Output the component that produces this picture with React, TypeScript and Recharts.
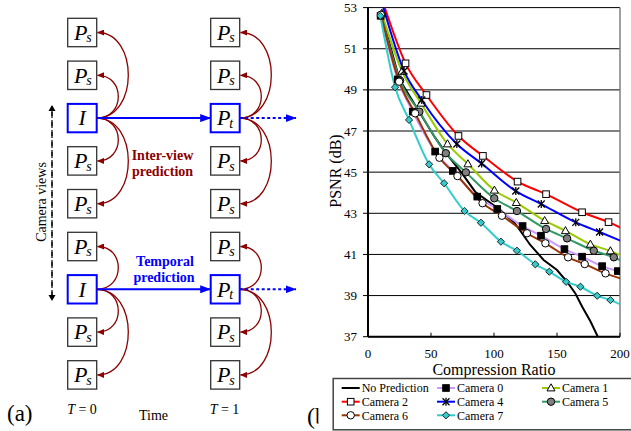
import React from 'react';
import {
  LineChart,
  Line,
  XAxis,
  YAxis,
  CartesianGrid,
  ReferenceLine,
  Label,
} from 'recharts';

// -----------------------------------------------------------------------------
// Data — [compression ratio, PSNR dB]
// -----------------------------------------------------------------------------
type Pt = [number, number];

const X_TICKS = [0, 50, 100, 150, 200];
const Y_TICKS = [37, 39, 41, 43, 45, 47, 49, 51, 53];

const noPrediction: Pt[] = [
  [10.5, 52.7], [25, 49.5], [40, 48.0], [53, 46.7], [61, 46.0], [74.5, 44.95],
  [85, 44.05], [105, 43.16], [116, 42.55], [120.3, 42.2], [128.8, 41.46],
  [139.4, 40.73], [150, 40.24], [158, 39.67], [164.6, 39.1], [170, 38.46],
  [176.5, 37.75], [183.2, 36.9],
];
const camera0: Pt[] = [
  [10, 52.6], [23.6, 49.51], [35.5, 47.94], [53.3, 46.0], [67.3, 45.06],
  [86.7, 43.81], [102.6, 43.21], [122.7, 42.38], [137.3, 41.91], [155.9, 41.26],
  [169.9, 40.89], [185.8, 40.43], [198.3, 40.19],
];
const camera1: Pt[] = [
  [11, 52.72], [27, 49.9], [42.1, 48.35], [63.1, 46.37], [79.3, 45.4],
  [100.3, 44.12], [117.7, 43.52], [140.2, 42.64], [156.7, 42.15], [176.5, 41.49],
  [192.4, 41.17],
];
const camera2: Pt[] = [
  [29.8, 50.29], [46.4, 48.75], [71.8, 46.76], [91.2, 45.79], [118.7, 44.54],
  [141.3, 43.93], [169.9, 43.05], [190.9, 42.57],
];
const camera4: Pt[] = [
  [28.6, 49.92], [42.7, 48.51], [70.5, 46.37], [90.2, 45.42], [117.3, 44.08],
  [137.5, 43.45], [164.9, 42.56], [183.8, 42.09],
];
const camera5: Pt[] = [
  [10.5, 52.65], [25.5, 49.45], [40.8, 47.94], [61.8, 45.92], [77.7, 44.99],
  [100.2, 43.73], [118.2, 43.11], [141.3, 42.24], [158, 41.78], [179.2, 41.18],
  [195.1, 40.86],
];
const camera6: Pt[] = [
  [10.3, 52.65], [24.7, 49.4], [37.4, 47.86], [56.7, 45.7], [71, 44.81],
  [90.9, 43.49], [106.3, 42.88], [126.2, 42.03], [140.8, 41.54], [158.8, 40.86],
  [172, 40.53], [188.5, 40.08],
];
const camera7: Pt[] = [
  [9.8, 52.6], [21.5, 49.13], [32.6, 47.54], [48.5, 45.38], [60.4, 44.46],
  [76.6, 43.11], [89.6, 42.54], [105.5, 41.62], [118.2, 41.18], [132.8, 40.52],
  [143.9, 40.16], [157.2, 39.67], [168.6, 39.43], [181.9, 38.99], [192.4, 38.78],
];

// where the fitted curves leave the plot frame (no marker there)
const camera0Ends: Pt[] = [[203, 40.12]];
const camera1Ends: Pt[] = [[203, 40.88]];
const camera2Ends: Pt[] = [[12.5, 53.15], [203, 42.23]];
const camera4Ends: Pt[] = [[12, 53.05], [203, 41.6]];
const camera5Ends: Pt[] = [[203, 40.64]];
const camera6Ends: Pt[] = [[203, 39.78]];
const camera7Ends: Pt[] = [[203, 38.49]];

// -----------------------------------------------------------------------------
const SERIF = '"Liberation Serif", "Times New Roman", serif';

type MarkerKind =
  | 'none'
  | 'squareFilled'
  | 'triangle'
  | 'squareOpen'
  | 'star'
  | 'circleGray'
  | 'circleOpen'
  | 'diamond';

interface SeriesDef {
  name: string;
  color: string;
  marker: MarkerKind;
  marks: Pt[];
  ends: Pt[];
  curve: 'linear' | 'monotone';
}

const SERIES: SeriesDef[] = [
  { name: 'No Prediction', color: '#000000', marker: 'none', marks: noPrediction, ends: [], curve: 'linear' },
  { name: 'Camera 0', color: '#cc99ff', marker: 'squareFilled', marks: camera0, ends: camera0Ends, curve: 'monotone' },
  { name: 'Camera 1', color: '#99cc00', marker: 'triangle', marks: camera1, ends: camera1Ends, curve: 'monotone' },
  { name: 'Camera 2', color: '#ff0000', marker: 'squareOpen', marks: camera2, ends: camera2Ends, curve: 'monotone' },
  { name: 'Camera 4', color: '#0000ff', marker: 'star', marks: camera4, ends: camera4Ends, curve: 'monotone' },
  { name: 'Camera 5', color: '#339966', marker: 'circleGray', marks: camera5, ends: camera5Ends, curve: 'monotone' },
  { name: 'Camera 6', color: '#993300', marker: 'circleOpen', marks: camera6, ends: camera6Ends, curve: 'monotone' },
  { name: 'Camera 7', color: '#33cccc', marker: 'diamond', marks: camera7, ends: camera7Ends, curve: 'monotone' },
];

const toRows = (marks: Pt[], ends: Pt[]) =>
  [
    ...marks.map(([x, y]) => ({ x, y, m: true })),
    ...ends.map(([x, y]) => ({ x, y, m: false })),
  ].sort((a, b) => a.x - b.x);

const Marker: React.FC<{ kind: MarkerKind; cx: number; cy: number }> = ({ kind, cx, cy }) => {
  switch (kind) {
    case 'squareFilled':
      return <rect x={cx - 3.3} y={cy - 3.3} width={6.6} height={6.6} fill="#000" stroke="#000" strokeWidth={1} />;
    case 'squareOpen':
      return <rect x={cx - 3.3} y={cy - 3.3} width={6.6} height={6.6} fill="#fff" stroke="#000" strokeWidth={1} />;
    case 'triangle':
      return (
        <polygon
          points={`${cx},${cy - 4.2} ${cx + 4},${cy + 2.9} ${cx - 4},${cy + 2.9}`}
          fill="#fff"
          stroke="#000"
          strokeWidth={1}
        />
      );
    case 'star':
      return (
        <g stroke="#000" strokeWidth={1.3}>
          <line x1={cx - 3.5} y1={cy - 3.5} x2={cx + 3.5} y2={cy + 3.5} />
          <line x1={cx - 3.5} y1={cy + 3.5} x2={cx + 3.5} y2={cy - 3.5} />
          <line x1={cx} y1={cy - 4} x2={cx} y2={cy + 4} />
        </g>
      );
    case 'circleGray':
      return <circle cx={cx} cy={cy} r={3.7} fill="#808080" stroke="#000" strokeWidth={1} />;
    case 'circleOpen':
      return <circle cx={cx} cy={cy} r={3.7} fill="#fff" stroke="#000" strokeWidth={1} />;
    case 'diamond':
      return (
        <polygon
          points={`${cx},${cy - 3.6} ${cx + 3.6},${cy} ${cx},${cy + 3.6} ${cx - 3.6},${cy}`}
          fill="#33cccc"
          stroke="#222"
          strokeWidth={1}
        />
      );
    default:
      return null;
  }
};

const makeDot = (kind: MarkerKind, key: string) => (props: any) => {
  const { cx, cy, payload, index } = props;
  if (kind === 'none' || !payload?.m || cx == null || cy == null) return <g key={`${key}-${index}`} />;
  return (
    <g key={`${key}-${index}`}>
      <Marker kind={kind} cx={cx} cy={cy} />
    </g>
  );
};

// -----------------------------------------------------------------------------
// (a) prediction structure diagram
// -----------------------------------------------------------------------------
const BOX_W = 29;
const BOX_H = 28.4;
const boxTops = [18.3, 61.1, 103.9, 146.7, 189.5, 232.3, 275.1, 317.9, 360.7];
const columnLefts = [67.7, 210.7];
const keyRows = [2, 6];
// [from row, to row, bulge]
const arcLinks: [number, number, number][] = [
  [2, 0, 31.5], [2, 1, 21.5], [2, 3, 21.5], [2, 4, 31.5],
  [6, 5, 21.5], [6, 7, 21.5], [6, 8, 31.5],
];
const RED = '#8b0000';
const BLUE = '#0000ff';

const Diagram: React.FC = () => {
  const mid = (r: number) => boxTops[r] + BOX_H / 2;
  return (
    <svg width={631} height={431} style={{ position: 'absolute', left: 0, top: 0 }}>
      <defs>
        <marker id="redHead" markerUnits="userSpaceOnUse" markerWidth={7} markerHeight={6} refX={6.5} refY={3} orient="auto">
          <path d="M0,0 L7,3 L0,6 z" fill={RED} />
        </marker>
        <marker id="blueHead" markerUnits="userSpaceOnUse" markerWidth={11} markerHeight={8} refX={10.5} refY={4} orient="auto">
          <path d="M0,0 L11,4 L0,8 z" fill={BLUE} />
        </marker>
        <marker id="blackHead" markerUnits="userSpaceOnUse" markerWidth={6} markerHeight={9} refX={5} refY={4.5} orient="auto">
          <path d="M0,1 L6,4.5 L0,8 z" fill="#000" />
        </marker>
      </defs>

      {/* boxes */}
      {columnLefts.map((left, c) =>
        boxTops.map((top, r) => {
          const isKey = keyRows.includes(r);
          return (
            <g key={`b${c}-${r}`}>
              <rect
                x={left}
                y={top}
                width={BOX_W}
                height={BOX_H}
                fill="#fff"
                stroke={isKey ? BLUE : '#333'}
                strokeWidth={isKey ? 2 : 1.3}
              />
              {isKey && c === 0 ? (
                <text x={left + BOX_W / 2} y={top + 21.5} textAnchor="middle" fontFamily={SERIF} fontStyle="italic" fontSize={22}>
                  I
                </text>
              ) : (
                <>
                  <text x={left + 6.3} y={top + 21.5} fontFamily={SERIF} fontStyle="italic" fontSize={22}>
                    P
                  </text>
                  <text x={left + 18.5} y={top + 24} fontFamily={SERIF} fontStyle="italic" fontSize={14}>
                    {isKey ? 't' : 's'}
                  </text>
                </>
              )}
            </g>
          );
        }),
      )}

      {/* inter-view arcs */}
      {columnLefts.map((left, c) =>
        arcLinks.map(([from, to, bulge]) => {
          const sx = left + BOX_W;
          const sy = mid(from);
          const ty = mid(to);
          const k = bulge / 0.75;
          return (
            <path
              key={`a${c}-${from}-${to}`}
              d={`M${sx},${sy} C${sx + k},${sy} ${sx + k},${ty} ${sx + 0.8},${ty}`}
              fill="none"
              stroke={RED}
              strokeWidth={1.3}
              markerEnd="url(#redHead)"
            />
          );
        }),
      )}

      {/* temporal arrows */}
      {keyRows.map((r) => (
        <g key={`t${r}`}>
          <line
            x1={columnLefts[0] + BOX_W}
            y1={mid(r)}
            x2={columnLefts[1]}
            y2={mid(r)}
            stroke={BLUE}
            strokeWidth={2}
            markerEnd="url(#blueHead)"
          />
          <line
            x1={columnLefts[1] + BOX_W}
            y1={mid(r)}
            x2={296}
            y2={mid(r)}
            stroke={BLUE}
            strokeWidth={2}
            strokeDasharray="3 2.5"
            markerEnd="url(#blueHead)"
          />
        </g>
      ))}

      {/* camera views axis */}
      <line x1={52} y1={298} x2={52} y2={106} stroke="#000" strokeWidth={1.2} strokeDasharray="6 4" markerEnd="url(#blackHead)" />
      <line x1={52} y1={110} x2={52} y2={300} stroke="#000" strokeWidth={1.2} strokeDasharray="6 4" markerEnd="url(#blackHead)" />
      <text
        x={41}
        y={202}
        transform="rotate(-90 41 202)"
        textAnchor="middle"
        dominantBaseline="central"
        fontFamily={SERIF}
        fontSize={14}
      >
        Camera views
      </text>

      <text x={162.5} y={160} textAnchor="middle" fontFamily={SERIF} fontSize={14} fontWeight="bold" fill={RED}>
        Inter-view
      </text>
      <text x={162.5} y={175.5} textAnchor="middle" fontFamily={SERIF} fontSize={14} fontWeight="bold" fill={RED}>
        prediction
      </text>
      <text x={165} y={266} textAnchor="middle" fontFamily={SERIF} fontSize={14} fontWeight="bold" fill={BLUE}>
        Temporal
      </text>
      <text x={164} y={281.5} textAnchor="middle" fontFamily={SERIF} fontSize={14} fontWeight="bold" fill={BLUE}>
        prediction
      </text>

      <text x={7} y={421} fontFamily={SERIF} fontSize={23}>
        (a)
      </text>
      <text x={82} y={414} textAnchor="middle" fontFamily={SERIF} fontSize={14}>
        <tspan fontStyle="italic">T</tspan> = 0
      </text>
      <text x={153.5} y={420} textAnchor="middle" fontFamily={SERIF} fontSize={14}>
        Time
      </text>
      <text x={224.5} y={414} textAnchor="middle" fontFamily={SERIF} fontSize={14}>
        <tspan fontStyle="italic">T</tspan> = 1
      </text>

      {/* panel label, its bowl hidden behind the legend's white margin */}
      <text x={307} y={424} fontFamily={SERIF} fontSize={24}>
        (b)
      </text>
      <rect x={318.5} y={398} width={20} height={33} fill="#fff" />
    </svg>
  );
};

// -----------------------------------------------------------------------------
// legend box under the chart
// -----------------------------------------------------------------------------
const LEGEND_COLS = [341.7, 437, 542];
const LEGEND_ROWS = [388, 401.7, 415.3];

const LegendBox: React.FC = () => (
  <svg width={631} height={431} style={{ position: 'absolute', left: 0, top: 0 }}>
    <rect x={333.2} y={378.5} width={330} height={51.3} fill="#fff" stroke="#444" strokeWidth={1.5} />
    {SERIES.map((s, i) => {
      const x = LEGEND_COLS[i % 3];
      const y = LEGEND_ROWS[Math.floor(i / 3)];
      return (
        <g key={s.name}>
          <line x1={x} y1={y} x2={x + 18} y2={y} stroke={s.color} strokeWidth={2} />
          <Marker kind={s.marker} cx={x + 9} cy={y} />
          <text x={x + 20} y={y + 4.2} fontFamily={SERIF} fontSize={12} fill="#000">
            {s.name}
          </text>
        </g>
      );
    })}
  </svg>
);

// -----------------------------------------------------------------------------
export default function App() {
  const axisText = { fontSize: 13, fill: '#000', fontFamily: SERIF };
  return (
    <div
      style={{
        position: 'absolute',
        left: 0,
        top: 0,
        width: 631,
        height: 431,
        overflow: 'hidden',
        background: '#fff',
        fontFamily: SERIF,
      }}
    >
      <Diagram />

      <div style={{ position: 'absolute', left: 300, top: 0 }}>
        <LineChart width={331} height={390} margin={{ top: 7.6, right: 11, bottom: 8.3, left: 8 }}>
          <CartesianGrid vertical={false} stroke="#000" strokeWidth={1} />
          <XAxis
            type="number"
            dataKey="x"
            domain={[0, 200]}
            ticks={X_TICKS}
            interval={0}
            allowDataOverflow
            height={45}
            tickSize={-4}
            tickMargin={16.5}
            axisLine={{ stroke: '#000', strokeWidth: 2 }}
            tickLine={{ stroke: '#000' }}
            tick={axisText}
          >
            <Label
              content={() => (
                <text x={194} y={375} textAnchor="middle" fontFamily={SERIF} fontSize={16} fill="#000">
                  Compression Ratio
                </text>
              )}
            />
          </XAxis>
          <YAxis
            type="number"
            domain={[37, 53]}
            ticks={Y_TICKS}
            interval={0}
            allowDataOverflow
            width={60}
            tickSize={5}
            tickMargin={6}
            axisLine={{ stroke: '#000', strokeWidth: 2 }}
            tickLine={{ stroke: '#000' }}
            tick={axisText}
          >
            <Label
              content={() => (
                <text
                  x={35}
                  y={171}
                  transform="rotate(-90 35 171)"
                  textAnchor="middle"
                  dominantBaseline="central"
                  fontFamily={SERIF}
                  fontSize={16}
                  fill="#000"
                >
                  PSNR (dB)
                </text>
              )}
            />
          </YAxis>
          <ReferenceLine x={200} stroke="#808080" strokeWidth={1.5} />
          {SERIES.map((s) => (
            <Line
              key={s.name}
              name={s.name}
              data={toRows(s.marks, s.ends)}
              dataKey="y"
              type={s.curve}
              stroke={s.color}
              strokeWidth={2}
              dot={makeDot(s.marker, s.name)}
              activeDot={false}
              isAnimationActive={false}
            />
          ))}
        </LineChart>
      </div>

      <LegendBox />
    </div>
  );
}
